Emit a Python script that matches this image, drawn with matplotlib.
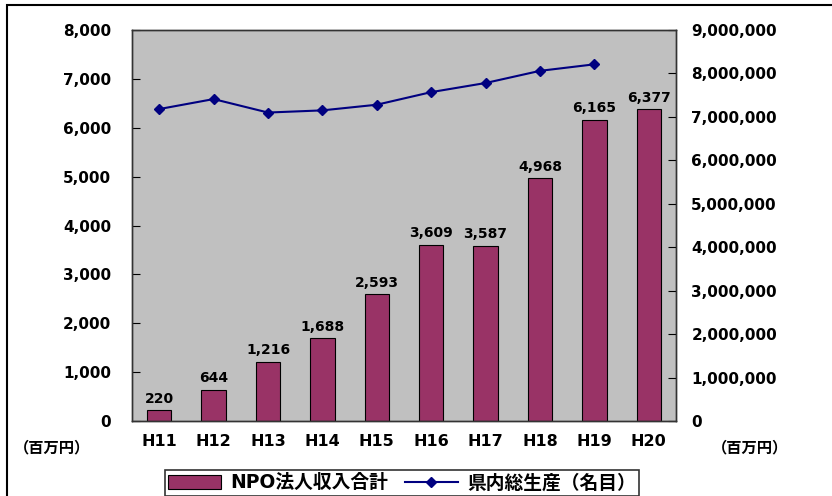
import numpy as np
import matplotlib.pyplot as plt
from matplotlib.patches import Rectangle

plt.rcParams['font.family'] = ['DejaVu Sans', 'Noto Sans CJK JP']
plt.rcParams['font.weight'] = 'bold'

years = ["H11", "H12", "H13", "H14", "H15", "H16", "H17", "H18", "H19", "H20"]
npo_income = [220, 644, 1216, 1688, 2593, 3609, 3587, 4968, 6165, 6377]
gdp_nominal = [7180000, 7410000, 7100000, 7150000, 7280000, 7570000, 7780000, 8060000, 8210000]

fig = plt.figure(figsize=(8.32, 4.96), dpi=100)
ax = fig.add_axes([132 / 832, 75 / 496, 544 / 832, 391 / 496])
ax.set_facecolor("#c0c0c0")

x = np.arange(len(years))
ax.bar(x, npo_income, width=0.45, color="#993366", edgecolor="black", linewidth=0.8,
       label="NPO法人収入合計", zorder=2)
for xi, v in zip(x, npo_income):
    ax.text(xi, v + 90, f"{v:,}", ha="center", va="bottom", fontsize=10, fontweight="bold")

ax.set_xlim(-0.5, len(years) - 0.5)
ax.set_ylim(0, 8000)
ax.set_yticks(np.arange(0, 8001, 1000))
ax.set_yticklabels([f"{v:,}" for v in range(0, 8001, 1000)])
ax.set_xticks(x)
ax.set_xticklabels(years)
ax.tick_params(axis="y", direction="in", length=6, labelsize=11, pad=15)
ax.tick_params(axis="x", length=0, labelsize=11.5, pad=9)

ax2 = ax.twinx()
ax2.plot(x[:len(gdp_nominal)], gdp_nominal, color="#000080", marker="D", markersize=5,
         linewidth=1.5, label="県内総生産（名目）")
ax2.set_ylim(0, 9000000)
ax2.set_yticks(np.arange(0, 9000001, 1000000))
ax2.set_yticklabels([f"{v:,}" for v in range(0, 9000001, 1000000)])
ax2.tick_params(axis="y", direction="in", length=6, labelsize=11, pad=11)

for a in (ax, ax2):
    for s in a.spines.values():
        s.set_color("#333333")
        s.set_linewidth(1)

fig.text(14 / 832, 1 - 448 / 496, "（百万円）", fontsize=11, va="center", ha="left")
fig.text(712 / 832, 1 - 448 / 496, "（百万円）", fontsize=11, va="center", ha="left")

h1, l1 = ax.get_legend_handles_labels()
h2, l2 = ax2.get_legend_handles_labels()
leg = fig.legend(h1 + h2, l1 + l2, loc="center", bbox_to_anchor=(402 / 832, 1 - 483 / 496),
                 ncol=2, fontsize=13.5, frameon=True, fancybox=False, edgecolor="black",
                 handlelength=2.8, columnspacing=0.9, handletextpad=0.5, borderpad=0.2,
                 borderaxespad=0.2)
leg.get_frame().set_linewidth(1.2)

fig.patches.append(Rectangle((7 / 832, -0.05), 1.1, 1 - 5 / 496 + 0.05, transform=fig.transFigure,
                             fill=False, edgecolor="black", linewidth=1.5))

fig.savefig("out.png", dpi=100)
